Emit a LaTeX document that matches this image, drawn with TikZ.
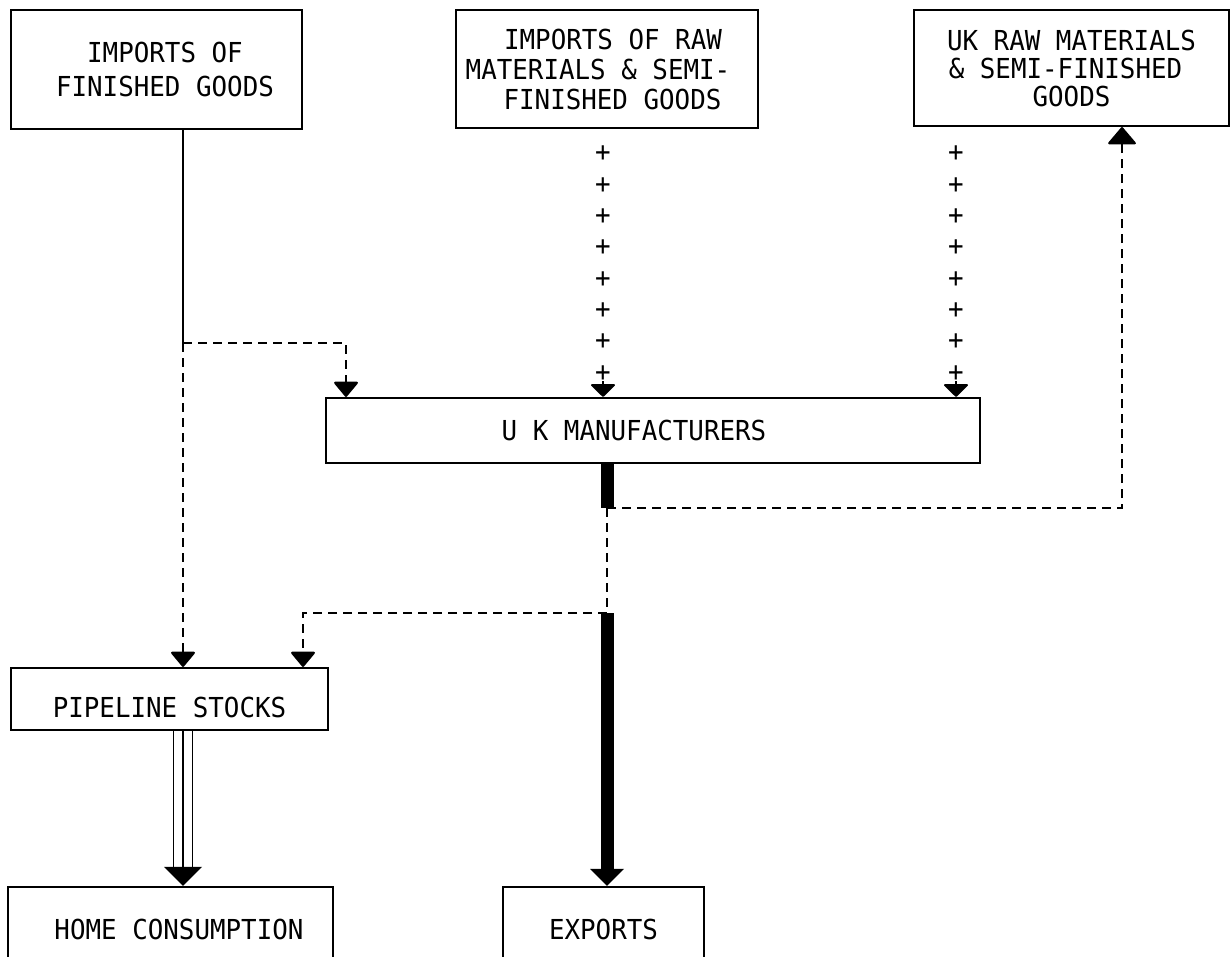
\documentclass[tikz,border=0pt]{standalone}
\usepackage{fontspec}
\setmonofont[FakeStretch=0.94]{DejaVu Sans Mono}
\usetikzlibrary{arrows.meta,calc}
\newcommand\sh[1]{\hspace*{#1pt}}
\begin{document}
\begin{tikzpicture}[x=1pt,y=-1pt,
  box/.style={draw, line width=2.2pt, rectangle, inner sep=0pt,
    font=\ttfamily\fontsize{27.5}{28}\selectfont, align=center},
  plus/.style={inner sep=0pt, font=\ttfamily\fontsize{27.5}{28}\selectfont},
  thinl/.style={line width=1.6pt},
  dashl/.style={line width=2.4pt, dash pattern=on 9pt off 6pt},
  thickl/.style={line width=13pt},
  tipS/.style={-{Triangle[width=26pt,length=16pt,round]}},
  tipP/.style={-{Triangle[width=26pt,length=13pt,round]}},
  tipU/.style={-{Triangle[width=30pt,length=18pt,round]}},
  tipE/.style={-{Triangle[width=34pt,length=17pt,line width=0pt]}},
  tipH/.style={-{Triangle[width=38pt,length=19pt,line width=0pt]}}
]
\useasboundingbox (0,0) rectangle (1231,956);
\clip (0,0) rectangle (1231,956);

% boxes
\node[box, minimum width=291pt, minimum height=119pt] (b1) at (156.5,69.5)
  {\sh{17}IMPORTS OF\\[6pt]\sh{17}FINISHED GOODS};
\node[box, minimum width=302pt, minimum height=118pt] (b2) at (607,69)
  {\sh{12}IMPORTS OF RAW\\[2pt]\sh{-18}MATERIALS \& SEMI-\\[2pt]\sh{11}FINISHED GOODS};
\node[box, minimum width=315pt, minimum height=116pt] (b3) at (1071.5,68)
  {UK RAW MATERIALS\\\sh{-12}\& SEMI-FINISHED\\GOODS};
\node[box, minimum width=654pt, minimum height=65pt] (ukm) at (653,430.5)
  {\sh{-38}U K MANUFACTURERS};
\node[box, minimum width=317pt, minimum height=62pt, text height=37pt, text depth=0pt] (pipe) at (169.5,699)
  {PIPELINE STOCKS};
\node[box, minimum width=325pt, minimum height=100pt, text depth=16pt] (home) at (170.5,937)
  {\sh{17}HOME CONSUMPTION};
\node[box, minimum width=201pt, minimum height=100pt, text depth=16pt] (exp) at (603.5,937)
  {EXPORTS};

% junction coordinates
\coordinate (c1) at (183,343);
\coordinate (c2) at (346,343);
\coordinate (c3) at (607,508);
\coordinate (c4) at (1122,508);
\coordinate (c5) at (607,613);
\coordinate (c6) at (303,613);
\coordinate (colA) at (603,0);
\coordinate (colB) at (956,0);

% imports of finished goods
\draw[thinl] (b1.south -| c1) -- (c1);
\draw[dashl, tipS] (c1) -- (c2) -- (c2 |- ukm.north);
\draw[dashl, tipS] (c1) -- (c1 |- pipe.north);

% plus-sign flows
\foreach \i in {0,...,7} {
  \node[plus] (pa\i) at ($(colA |- b2.south)+(0,{25+31.3*\i})$) {+};
  \node[plus] (pb\i) at ($(colB |- b2.south)+(0,{25+31.3*\i})$) {+};
}
\draw[thinl, tipP] (pa7) -- (colA |- ukm.north);
\draw[thinl, tipP] (pb7) -- (colB |- ukm.north);

% manufacturers outputs
\draw[thickl] (ukm.south -| c3) -- (c3);
\draw[dashl, tipU] (c3) -- (c4) -- (c4 |- b3.south);
\draw[dashl] (c3) -- (c5);
\draw[thickl, tipE] (c5) -- (c5 |- exp.north);
\draw[dashl, tipS] (c5) -- (c6) -- (c6 |- pipe.north);

% pipeline to home consumption (triple line)
\draw[line width=1.6pt, double distance=17.5pt, shorten >=18pt] (pipe.south -| c1) -- (c1 |- home.north);
\draw[thinl, tipH] (pipe.south -| c1) -- (c1 |- home.north);
\end{tikzpicture}
\end{document}
